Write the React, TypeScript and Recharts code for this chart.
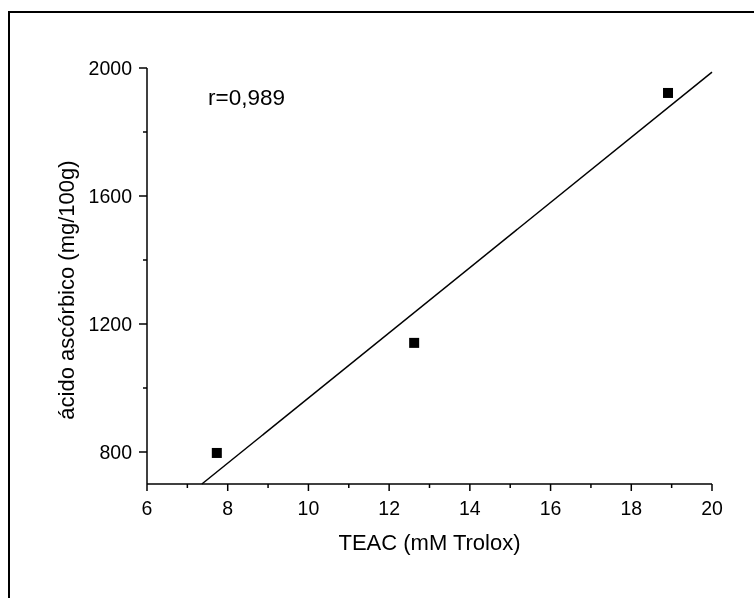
import React from 'react';
import { ScatterChart, Scatter, XAxis, YAxis, ReferenceLine, Label } from 'recharts';

const xMajorTicks = [6, 8, 10, 12, 14, 16, 18, 20];
const xMinorTicks = [7, 9, 11, 13, 15, 17, 19];
const yMajorTicks = [800, 1200, 1600, 2000];
const yMinorTicks = [1000, 1400, 1800];
const teac = [7.73, 12.62, 18.91];
const acido = [797, 1141, 1922];
const fitX = [7.36, 20];
const fitY = [700, 1987];
const xLabel = 'TEAC (mM Trolox)';
const yLabel = 'ácido ascórbico (mg/100g)';
const rText = 'r=0,989';

const points = teac.map((x, i) => ({ x, y: acido[i] }));
const xTicks = [...xMajorTicks, ...xMinorTicks].sort((a, b) => a - b);
const yTicks = [...yMajorTicks, ...yMinorTicks].sort((a, b) => a - b);

const FONT = '"Liberation Sans", Arial, Helvetica, sans-serif';

const XTick = (props: any) => {
  const { x, y, payload } = props;
  const major = xMajorTicks.includes(payload.value);
  return (
    <g>
      <line x1={x} x2={x} y1={y} y2={y + (major ? 7 : 4)} stroke="#000" strokeWidth={1.5} />
      {major && (
        <text x={x} y={y + 31} textAnchor="middle" fontSize={19.5} fontFamily={FONT} fill="#000">
          {payload.value}
        </text>
      )}
    </g>
  );
};

const YTick = (props: any) => {
  const { x, y, payload } = props;
  const major = yMajorTicks.includes(payload.value);
  return (
    <g>
      <line x1={x - (major ? 8 : 4)} x2={x} y1={y} y2={y} stroke="#000" strokeWidth={1.5} />
      {major && (
        <text x={x - 15} y={y + 7} textAnchor="end" fontSize={19.5} fontFamily={FONT} fill="#000">
          {payload.value}
        </text>
      )}
    </g>
  );
};

const Square = (props: any) => {
  const { cx, cy } = props;
  return <rect x={cx - 5} y={cy - 5} width={10} height={10} fill="#000" />;
};

export default function App() {
  return (
    <div style={{ position: 'relative', width: 746, height: 582 }}>
      <div
        style={{
          position: 'fixed',
          left: 8,
          top: 11,
          width: 746,
          height: 587,
          borderTop: '2px solid #000',
          borderLeft: '2px solid #000',
          boxSizing: 'border-box',
          pointerEvents: 'none',
        }}
      />
      <ScatterChart width={746} height={582} margin={{ top: 60, right: 42, bottom: 46, left: 59 }}>
        <XAxis
          type="number"
          dataKey="x"
          domain={[6, 20]}
          ticks={xTicks}
          interval={0}
          tickSize={0}
          tickMargin={0}
          tickLine={false}
          tick={<XTick />}
          axisLine={{ stroke: '#000', strokeWidth: 1.5 }}
          height={60}
          allowDataOverflow
        >
          <Label
            content={(p: any) => {
              const vb = p.viewBox || {};
              return (
                <text
                  x={vb.x + vb.width / 2}
                  y={vb.y + 66}
                  textAnchor="middle"
                  fontSize={22}
                  fontFamily={FONT}
                  fill="#000"
                >
                  {xLabel}
                </text>
              );
            }}
          />
        </XAxis>
        <YAxis
          type="number"
          dataKey="y"
          domain={[700, 2000]}
          ticks={yTicks}
          interval={0}
          tickSize={0}
          tickMargin={0}
          tickLine={false}
          tick={<YTick />}
          axisLine={{ stroke: '#000', strokeWidth: 1.5 }}
          width={80}
          allowDataOverflow
        >
          <Label
            content={(p: any) => {
              const vb = p.viewBox || {};
              const cx = vb.x + 7;
              const cy = vb.y + vb.height / 2 + 14;
              return (
                <text
                  x={cx}
                  y={cy}
                  transform={`rotate(-90, ${cx}, ${cy})`}
                  textAnchor="middle"
                  fontSize={22}
                  fontFamily={FONT}
                  fill="#000"
                >
                  {yLabel}
                </text>
              );
            }}
          />
        </YAxis>
        <ReferenceLine
          segment={[
            { x: fitX[0], y: fitY[0] },
            { x: fitX[1], y: fitY[1] },
          ]}
          stroke="#000"
          strokeWidth={1.5}
          ifOverflow="visible"
        />
        <Scatter data={points} fill="#000" shape={<Square />} isAnimationActive={false} />
      </ScatterChart>
      <svg
        width={746}
        height={582}
        style={{ position: 'absolute', left: 0, top: 0, pointerEvents: 'none' }}
      >
        <text x={200} y={97} fontSize={22.5} fontFamily={FONT} fill="#000">
          {rText}
        </text>
      </svg>
    </div>
  );
}
